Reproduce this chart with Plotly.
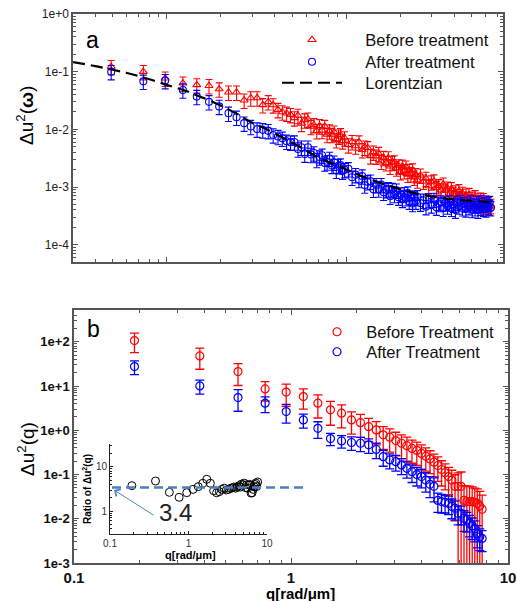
import math
import plotly.graph_objects as go

# ---------------- Panel a : Δu²(ω) ----------------
omega = [4.9, 7.4, 9.8, 12.3, 14.7, 17.2, 19.6, 22.1, 24.5, 27.0,
         29.4, 31.9, 34.3, 36.8, 39.2, 41.7, 44.1, 46.6, 49.0, 51.5,
         53.9, 56.4, 58.8, 61.3, 63.7, 66.2, 68.6, 71.1, 73.5, 76.0,
         78.4, 80.9, 83.3, 85.8, 88.2, 90.7, 93.1, 95.6, 98.0,
         103, 108, 113, 118, 123, 127, 132, 137, 142, 147,
         152, 157, 162, 167, 172, 176, 181, 186, 191, 196,
         201, 206, 211, 216, 221, 225, 230, 235, 240, 245, 250,
         260, 270, 279, 289, 299, 309, 319, 328, 338, 348,
         358, 368, 377, 387, 397, 407, 417, 426, 436, 446,
         456, 466, 475, 485, 495, 505, 515, 524, 534, 544,
         554, 564, 573, 583, 593, 603, 613, 622, 632, 642]

before_w = [0.122, 0.100, 0.077, 0.063, 0.059, 0.057, 0.050, 0.044, 0.044, 0.032,
            0.035, 0.035, 0.0266, 0.030, 0.0265, 0.022, 0.020, 0.019, 0.018,
            0.0158, 0.0174, 0.0127, 0.0145, 0.0150, 0.0112, 0.0120, 0.00944, 0.0115, 0.00955,
            0.0112, 0.00813, 0.00933, 0.00813, 0.00891, 0.00661, 0.00759, 0.00804, 0.00631, 0.00708,
            0.00537, 0.00610, 0.00513, 0.00603, 0.00442, 0.00490, 0.00479, 0.00347, 0.00403, 0.00343,
            0.00380, 0.00279, 0.00324, 0.00263, 0.00320, 0.00229, 0.00266, 0.00272, 0.00214, 0.00232,
            0.00184, 0.00229, 0.00191, 0.00221, 0.00166, 0.00193, 0.00170, 0.00197, 0.00148, 0.00164,
            0.00132, 0.00160, 0.00126, 0.00141, 0.00104, 0.00122, 0.00127, 0.000977, 0.00105, 0.000881,
            0.00112, 0.000881, 0.000955, 0.000750, 0.000933, 0.000759, 0.000822, 0.000653, 0.000861, 0.000708,
            0.000776, 0.000617, 0.000724, 0.000631, 0.000741, 0.000582, 0.000638, 0.000537, 0.000676, 0.000550,
            0.000610, 0.000484, 0.000617, 0.000525, 0.000603, 0.000468, 0.000550, 0.000457, 0.000513, 0.000447,
            0.000479]

after_w = [0.100, 0.068, 0.070, 0.048, 0.037, 0.030, 0.025, 0.019, 0.0162, 0.0128,
           0.0112, 0.0101, 0.0098, 0.0095, 0.0080, 0.0075, 0.0070, 0.0062, 0.0060,
           0.00603, 0.00457, 0.00490, 0.00372, 0.00490, 0.00367, 0.00389, 0.00299, 0.00331, 0.00355,
           0.00260, 0.00272, 0.00313, 0.00237, 0.00269, 0.00195, 0.00234, 0.00240, 0.00188, 0.00200,
           0.00207, 0.00148, 0.00164, 0.00135, 0.00155, 0.00108, 0.00123, 0.00126, 0.000912, 0.00110,
           0.000923, 0.00110, 0.000813, 0.000902, 0.000933, 0.000692, 0.000902, 0.000741, 0.000881, 0.000668,
           0.000750, 0.000610, 0.000767, 0.000653, 0.000785, 0.000569, 0.000668, 0.000519, 0.000661, 0.000569,
           0.000676, 0.000525, 0.000589, 0.000457, 0.000603, 0.000490, 0.000610, 0.000447, 0.000519, 0.000550,
           0.000427, 0.000531, 0.000468, 0.000550, 0.000427, 0.000501, 0.000398, 0.000537, 0.000468, 0.000562,
           0.000437, 0.000513, 0.000417, 0.000525, 0.000457, 0.000550, 0.000407, 0.000490, 0.000437, 0.000537,
           0.000398, 0.000501, 0.000447, 0.000562, 0.000427, 0.000513, 0.000417, 0.000525, 0.000457, 0.000537,
           0.000437]

lor_w = [3, 4, 5, 6, 8, 10, 12.4, 15, 19.7, 25, 29.2, 35, 45, 55, 66, 80,
         101, 125, 156, 195, 239, 300, 367, 450, 564, 641]
lor_val = [0.147, 0.125, 0.108, 0.095, 0.074, 0.059, 0.048, 0.038, 0.0265, 0.018,
           0.0136, 0.0105, 0.0070, 0.0050, 0.0036, 0.0027, 0.0020, 0.00150, 0.00117,
           0.00094, 0.00079, 0.00069, 0.00063, 0.00059, 0.00056, 0.00054]

top_ytick_vals = [1, 0.1, 0.01, 0.001, 0.0001]
top_ytick_text = ["1e+0", "1e-1", "1e-2", "1e-3", "1e-4"]

# ---------------- Panel b : Δu²(q) ----------------
q = [0.19, 0.38, 0.57, 0.76, 0.95, 1.14, 1.33, 1.52, 1.71, 1.90,
     2.09, 2.28, 2.47, 2.66, 2.85, 3.04, 3.23, 3.42, 3.61, 3.80,
     3.99, 4.18, 4.37, 4.56, 4.75, 4.94, 5.13, 5.32, 5.51, 5.70,
     5.89, 6.08, 6.27, 6.46, 6.65, 6.84, 7.03, 7.22, 7.41, 7.60]

before_q = [107, 48, 21.3, 8.6, 7.3, 5.8, 4.1, 2.9, 2.44, 1.72,
            1.49, 1.21, 1.02, 0.79, 0.70, 0.585, 0.51, 0.45, 0.39, 0.35,
            0.30, 0.26, 0.225, 0.19, 0.16, 0.13, 0.11, 0.09, 0.075, 0.054,
            0.054, 0.054, 0.026, 0.0245, 0.0245, 0.0245, 0.0235, 0.0224, 0.0195, 0.0164]
before_q_err = [50, 24, 11, 4.0, 3.8, 2.8, 2.2, 1.6, 1.3, 0.9,
                0.8, 0.65, 0.55, 0.42, 0.38, 0.32, 0.28, 0.25, 0.21, 0.19,
                0.17, 0.14, 0.12, 0.10, 0.09, 0.075, 0.065, 0.055, 0.05, 0.045,
                0.055, 0.06, 0.03, 0.03, 0.03, 0.028, 0.026, 0.025, 0.022, 0.018]

after_q = [27.6, 10.1, 5.5, 4.1, 2.65, 1.72, 1.11, 0.65, 0.575, 0.53,
           0.51, 0.47, 0.37, 0.254, 0.214, 0.195, 0.165, 0.138, 0.116, 0.100,
           0.090, 0.075, 0.060, 0.054, 0.026, 0.0245, 0.0235, 0.0224, 0.019, 0.0173,
           0.0133, 0.0133, 0.0102, 0.0095, 0.0079, 0.0069, 0.0060, 0.0046, 0.0039, 0.0036]
after_q_err = [9.5, 3.5, 2.8, 1.6, 1.2, 0.6, 0.45, 0.2, 0.18, 0.18,
               0.18, 0.17, 0.14, 0.10, 0.08, 0.075, 0.065, 0.055, 0.05, 0.045,
               0.04, 0.035, 0.03, 0.03, 0.012, 0.011, 0.010, 0.010, 0.009, 0.008,
               0.006, 0.006, 0.005, 0.0045, 0.004, 0.0035, 0.003, 0.0024, 0.002, 0.0018]

ratio = [3.76, 4.8, 2.66, 2.05, 2.61, 3.1, 3.57, 4.26, 5.25, 4.26,
         2.89, 2.6, 2.75, 3.1, 3.3, 3.0, 3.1, 3.26, 3.36, 3.5,
         3.3, 3.5, 3.75, 3.5, 4.1, 3.9, 4.3, 3.4, 3.95, 3.3,
         3.9, 4.0, 2.55, 2.6, 3.1, 3.55, 4.0, 4.3, 3.6, 4.56]
ratio_mean = 3.4

bot_ytick_vals = [100, 10, 1, 0.1, 0.01, 0.001]
bot_ytick_text = ["1e+2", "1e+1", "1e+0", "1e-1", "1e-2", "1e-3"]
bot_xtick_vals = [0.1, 1, 10]
bot_xtick_text = ["0.1", "1", "10"]
inset_ytick_vals = [1, 10]
inset_ytick_text = ["1", "10"]

# ---------------- Figure ----------------
W, H = 517, 601
FONT = "Liberation Sans, Arial, Helvetica, sans-serif"
RED = "#ff0000"
BLUE = "#0000ff"
AX = "#555555"
NB = "\u00a0"


def px(x):
    return x / W


def py(y):
    return 1 - y / H


fig = go.Figure()

fig.add_trace(go.Scatter(
    x=omega, y=before_w, mode="markers", name=NB * 4 + "Before treatment",
    marker=dict(symbol="triangle-up-open", size=7, color=RED, line=dict(width=1.1)),
    error_y=dict(type="percent", value=28, color=RED, thickness=1.1, width=3.5),
    xaxis="x", yaxis="y", legend="legend"))
fig.add_trace(go.Scatter(
    x=omega, y=after_w, mode="markers", name=NB * 4 + "After treatment",
    marker=dict(symbol="circle-open", size=7, color=BLUE, line=dict(width=1.1)),
    error_y=dict(type="percent", value=28, color=BLUE, thickness=1.1, width=3.5),
    xaxis="x", yaxis="y", legend="legend3"))
fig.add_trace(go.Scatter(
    x=lor_w, y=lor_val, mode="lines", name=NB * 4 + "Lorentzian",
    line=dict(color="black", width=2.2, dash="12px,6px", shape="spline"),
    xaxis="x", yaxis="y", legend="legend4"))

fig.add_trace(go.Scatter(
    x=q, y=before_q, mode="markers", name=NB * 2 + "Before Treatment",
    marker=dict(symbol="circle-open", size=8, color=RED, line=dict(width=1.2)),
    error_y=dict(type="data", array=before_q_err, color=RED, thickness=1.3, width=4.5),
    xaxis="x2", yaxis="y2", legend="legend2"))
fig.add_trace(go.Scatter(
    x=q, y=after_q, mode="markers", name=NB * 2 + "After Treatment",
    marker=dict(symbol="circle-open", size=8, color=BLUE, line=dict(width=1.2)),
    error_y=dict(type="data", array=after_q_err, color=BLUE, thickness=1.3, width=4.5),
    xaxis="x2", yaxis="y2", legend="legend5"))

fig.add_trace(go.Scatter(
    x=q, y=ratio, mode="markers", showlegend=False,
    marker=dict(symbol="circle-open", size=8, color="black", line=dict(width=1)),
    xaxis="x3", yaxis="y3"))

common = dict(showgrid=False, zeroline=False, showline=True, linecolor=AX, linewidth=1.5,
              mirror="ticks", ticks="inside", tickcolor=AX, ticklen=5, tickwidth=1,
              automargin=False)
minor = dict(ticks="inside", ticklen=3, tickcolor=AX, tickwidth=1, showgrid=False)
inset_common = dict(showgrid=False, zeroline=False, showline=True, linecolor="#222",
                    linewidth=1, ticks="inside", ticklen=3, tickcolor="#222", automargin=False,
                    tickfont=dict(size=10, color="#333"),
                    minor=dict(dtick="D1", ticks="inside", ticklen=2, tickcolor="#222"))


def leg(x, y, itemwidth=30):
    return dict(x=px(x), y=py(y), xanchor="left", yanchor="middle", itemwidth=itemwidth,
                font=dict(size=16.5, color="#111"), bgcolor="rgba(0,0,0,0)",
                borderwidth=0, tracegroupgap=0)


fig.update_layout(
    width=W, height=H, autosize=False,
    margin=dict(l=0, r=0, t=0, b=0, autoexpand=False),
    paper_bgcolor="white", plot_bgcolor="rgba(0,0,0,0)",
    font=dict(family=FONT, color="black"),
    xaxis=dict(type="log", domain=[px(73), px(503)], range=[math.log10(3), math.log10(750)],
               anchor="y", showticklabels=False, dtick=1, minor=dict(dtick="D1", **minor), **common),
    yaxis=dict(type="log", domain=[py(262), py(14)], range=[-4.3, 0], anchor="x",
               tickvals=top_ytick_vals, ticktext=top_ytick_text,
               tickfont=dict(size=12, color="#222"), minor=dict(dtick="D1", **minor), **common),
    xaxis2=dict(type="log", domain=[px(74), px(508)], range=[-1, 1], anchor="y2",
                tickvals=bot_xtick_vals, ticktext=bot_xtick_text,
                tickfont=dict(size=15, weight="bold", color="#111"),
                minor=dict(dtick="D1", **minor), **common),
    yaxis2=dict(type="log", domain=[py(563), py(310)], range=[-3, 2.72], anchor="x2",
                tickvals=bot_ytick_vals, ticktext=bot_ytick_text,
                tickfont=dict(size=13, weight="bold", color="#111"),
                minor=dict(dtick="D1", **minor), **common),
    xaxis3=dict(type="log", domain=[px(110), px(267)], range=[-1, 1], anchor="y3",
                tickvals=bot_xtick_vals, ticktext=bot_xtick_text, **inset_common),
    yaxis3=dict(type="log", domain=[py(534), py(444)], range=[-0.52, 1.52], anchor="x3",
                tickvals=inset_ytick_vals, ticktext=inset_ytick_text, **inset_common),
    legend=leg(277, 40, 60),
    legend3=leg(277, 62, 60),
    legend4=leg(277, 83, 60),
    legend2=leg(317, 332),
    legend5=leg(317, 352),
    showlegend=True,
)

fig.add_shape(type="line", xref="paper", yref="y3",
              x0=px(112), x1=px(306), y0=ratio_mean, y1=ratio_mean,
              line=dict(color="#4a7fc1", width=2.5, dash="9px,5px"))

ann = [
    dict(text="a", x=px(92), y=py(40), font=dict(size=23)),
    dict(text="b", x=px(93), y=py(329), font=dict(size=23)),
    dict(text="\u0394u<sup>2</sup>(<b>\u03c9</b>)", x=px(25), y=py(116), font=dict(size=19), textangle=-90),
    dict(text="\u0394u<sup>2</sup>(q)", x=px(26), y=py(449), font=dict(size=19), textangle=-90),
    dict(text="<b>q[rad/\u03bcm]</b>", x=px(300), y=py(593), font=dict(size=15)),
    dict(text="<b>q[rad/\u03bcm]</b>", x=px(190), y=py(555), font=dict(size=11)),
    dict(text="<b>Ratio of \u0394u<sup>2</sup>(q)</b>", x=px(87), y=py(489), font=dict(size=10), textangle=-90),
    dict(text="3.4", x=px(175), y=py(512), font=dict(size=24, color="#222")),
]
for a in ann:
    fig.add_annotation(xref="paper", yref="paper", showarrow=False,
                       xanchor="center", yanchor="middle", **a)

fig.add_annotation(xref="paper", yref="paper", x=px(114), y=py(490), text="",
                   showarrow=True, ax=41, ay=26, arrowhead=4, arrowsize=1.6,
                   arrowwidth=1, arrowcolor="#4a86c8")

fig.write_html("out.html", config={"displayModeBar": False},
               post_script="document.body.style.margin='0px';")
